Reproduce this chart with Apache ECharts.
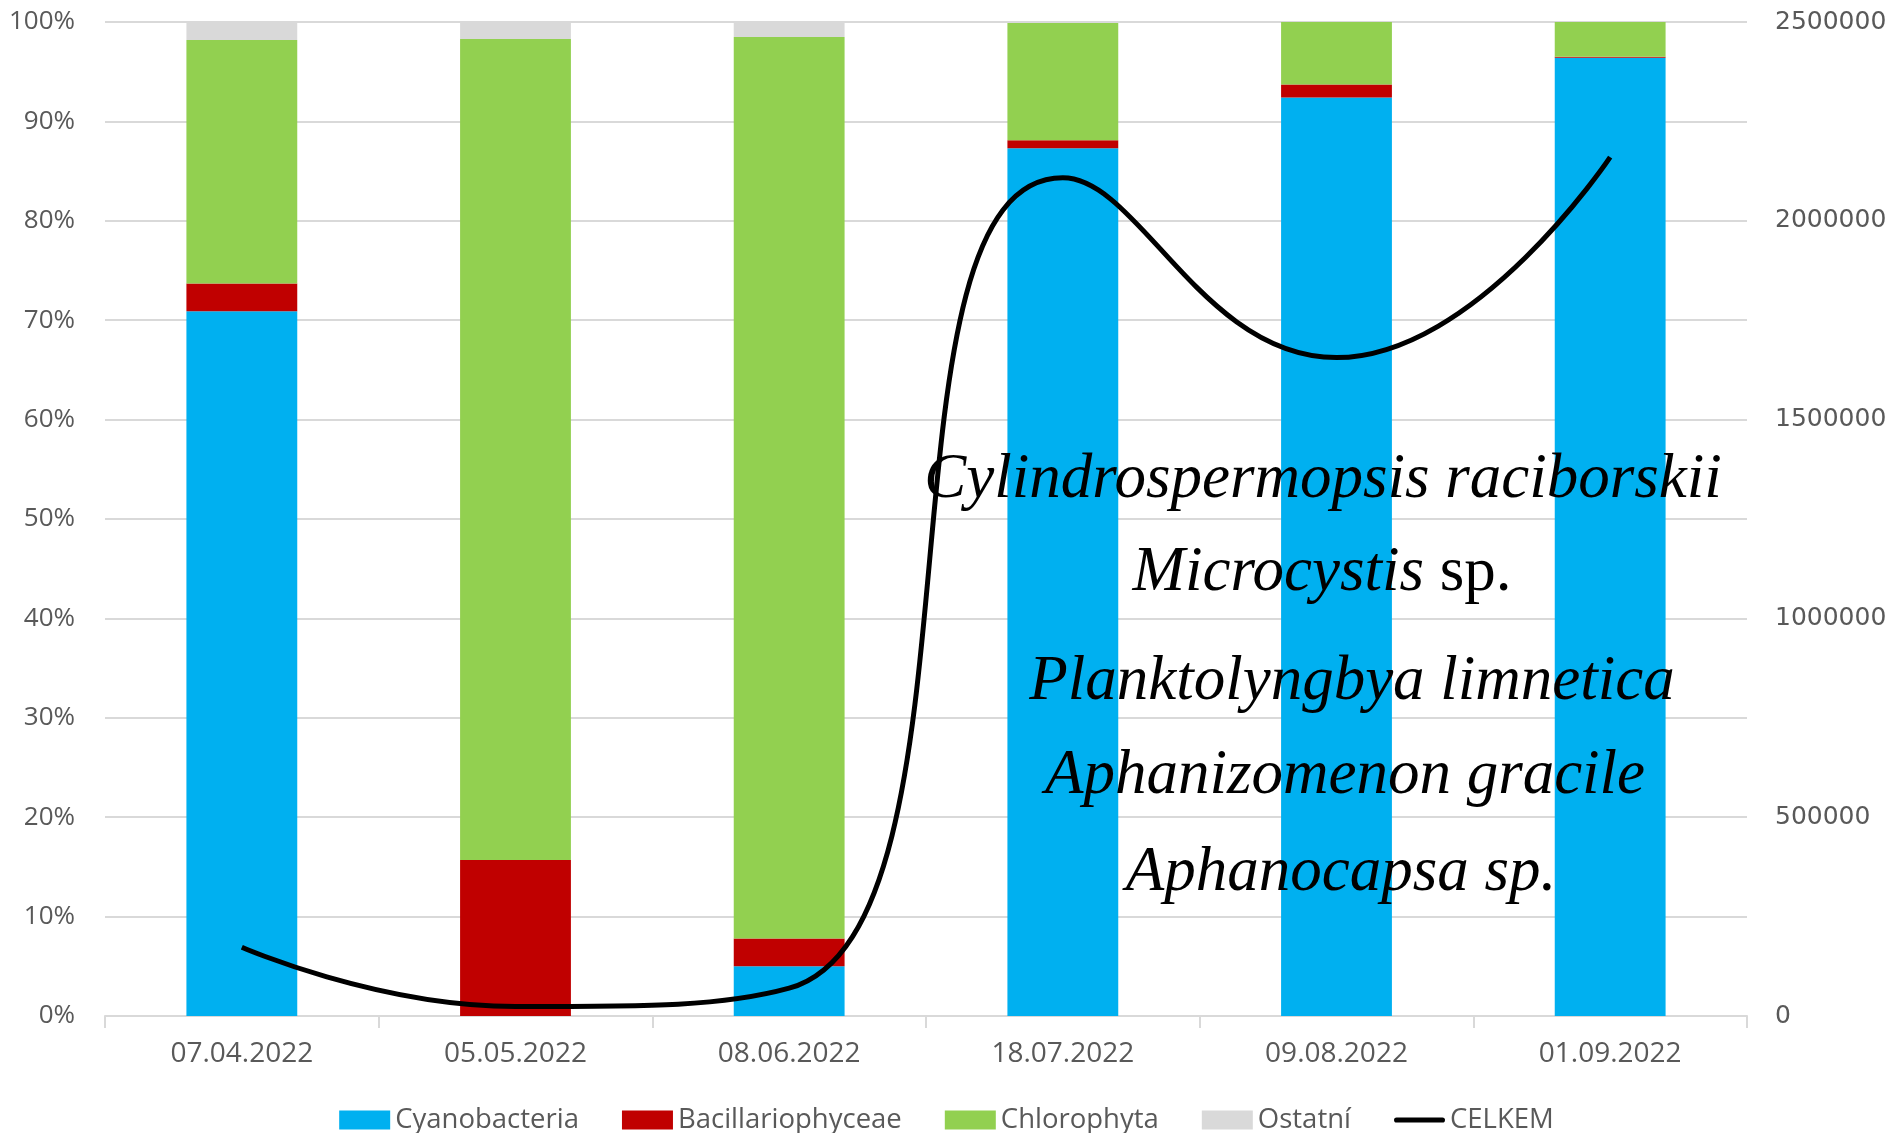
<!DOCTYPE html>
<html>
<head>
<meta charset="utf-8">
<script src="https://cdn.jsdelivr.net/npm/echarts@6/dist/echarts.min.js"></script>
<style>
  html, body { margin: 0; padding: 0; background: #fff; }
  #chart { width: 1893px; height: 1133px; }
</style>
</head>
<body>
<div id="chart"></div>
<script>
// data (percent of total, stacked to 100)
const dates = ['07.04.2022', '05.05.2022', '08.06.2022', '18.07.2022', '09.08.2022', '01.09.2022'];
const cyanobacteria = [70.9, 0, 5.0, 87.3, 92.4, 96.4];
const bacillariophyceae = [2.8, 15.7, 2.8, 0.8, 1.3, 0.1];
const chlorophyta = [24.5, 82.6, 90.7, 11.8, 6.3, 3.5];
const ostatni = [1.8, 1.7, 1.5, 0.1, 0, 0];
const celkem = [173000, 24000, 70000, 2108000, 1656000, 2160000];
const species = [
    '{i|Cylindrospermopsis raciborskii}',
    '{i|Microcystis}{n| sp.}',
    '{i|Planktolyngbya limnetica}',
    '{i|Aphanizomenon gracile}',
    '{i|Aphanocapsa sp.}'
];

const labelColor = '#595959';
const sansFont = 'Open Sans';

function barSeries(name, data, color) {
    return {
        name: name,
        type: 'bar',
        stack: 'groups',
        barWidth: '40.5%',
        itemStyle: { color: color },
        data: data
    };
}

// annotation lines (x centre, y centre in px)
const noteSpots = [[1323, 480], [1322, 573], [1352, 682], [1345, 776], [1341, 873]];
const notes = species.map((txt, i) => ({
    type: 'text',
    x: noteSpots[i][0],
    y: noteSpots[i][1],
    z: 100,
    style: {
        text: txt,
        align: 'center',
        verticalAlign: 'middle',
        rich: {
            i: { fontFamily: 'Liberation Serif', fontStyle: 'italic', fontSize: 63, fill: '#000' },
            n: { fontFamily: 'Liberation Serif', fontStyle: 'normal', fontSize: 63, fill: '#000' }
        }
    }
}));

const chart = echarts.init(document.getElementById('chart'));
chart.setOption({
    animation: false,
    grid: { left: 105, right: 146, top: 22, bottom: 117, containLabel: false, outerBoundsMode: 'none' },
    legend: {
        left: 'center',
        top: 1101,
        itemWidth: 51,
        itemHeight: 19,
        itemGap: 43,
        icon: 'rect',
        textStyle: { color: labelColor, fontFamily: sansFont, fontSize: 27.5 },
        data: ['Cyanobacteria', 'Bacillariophyceae', 'Chlorophyta', 'Ostatní',
            { name: 'CELKEM', icon: 'path://M5,0H95A5,5 0 0 1 95,10H5A5,5 0 0 1 5,0Z', itemStyle: { color: '#000' } }]
    },
    xAxis: {
        type: 'category',
        data: dates,
        axisLine: { lineStyle: { color: '#d9d9d9', width: 2 } },
        axisTick: { show: true, length: 12, lineStyle: { color: '#d9d9d9', width: 2 } },
        axisLabel: { color: labelColor, fontFamily: sansFont, fontSize: 28, margin: 24 }
    },
    yAxis: [
        {
            type: 'value',
            min: 0,
            max: 100,
            interval: 10,
            axisLabel: { formatter: '{value}%', color: labelColor, fontFamily: sansFont, fontSize: 26, margin: 30 },
            splitLine: { lineStyle: { color: '#d9d9d9', width: 2 } }
        },
        {
            type: 'value',
            min: 0,
            max: 2500000,
            interval: 500000,
            axisLabel: {
                formatter: (v) => String(v),
                color: labelColor, fontFamily: 'DejaVu Sans', fontSize: 25, margin: 28
            },
            splitLine: { show: false }
        }
    ],
    series: [
        barSeries('Cyanobacteria', cyanobacteria, '#00B0F0'),
        barSeries('Bacillariophyceae', bacillariophyceae, '#C00000'),
        barSeries('Chlorophyta', chlorophyta, '#92D050'),
        barSeries('Ostatní', ostatni, '#D9D9D9'),
        {
            name: 'CELKEM',
            type: 'line',
            yAxisIndex: 1,
            smooth: 0.5,
            showSymbol: false,
            symbol: 'none',
            clip: true,
            lineStyle: { color: '#000', width: 5 },
            itemStyle: { color: '#000' },
            data: celkem,
            z: 10
        }
    ],
    graphic: notes
});
</script>
</body>
</html>
